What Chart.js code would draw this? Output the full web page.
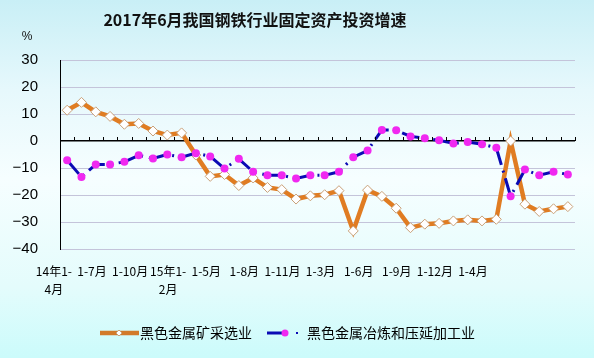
<!DOCTYPE html>
<html>
<head>
<meta charset="utf-8">
<script src="https://cdn.jsdelivr.net/npm/chart.js@4/dist/chart.umd.min.js"></script>
<style>
  html, body { margin: 0; padding: 0; }
  body {
    width: 594px; height: 358px; overflow: hidden;
    background: linear-gradient(to bottom, #c9eff6 0%, #e6f8fc 25%, #f6feff 50%, #e4fcfc 80%, #cbfbfb 100%);
  }
  #wrap { position: relative; width: 594px; height: 358px; }
</style>
</head>
<body>
<div id="wrap"><canvas id="mycanvas" width="594" height="358"></canvas></div>
<script>
// months, 2014 1-4 .. 2017 1-6
var months = [
  '14年1-4月','1-5月','1-6月','1-7月','1-8月','1-9月','1-10月','1-11月','1-12月',
  '15年1-2月','1-3月','1-4月','1-5月','1-6月','1-7月','1-8月','1-9月','1-10月','1-11月','1-12月',
  '16年1-2月','1-3月','1-4月','1-5月','1-6月','1-7月','1-8月','1-9月','1-10月','1-11月','1-12月',
  '17年1-2月','1-3月','1-4月','1-5月','1-6月'
];
var tickLabels = [['14年1-','4月'], '1-7月', '1-10月', ['15年1-','2月'], '1-5月', '1-8月', '1-11月', '1-3月', '1-6月', '1-9月', '1-12月', '1-4月'];
var yTicks = [30, 20, 10, 0, -10, -20, -30, -40];

var mining = [11.4, 14.3, 10.8, 9.1, 6.2, 6.5, 3.7, 2.2, 3.0,
  -5.2, -13.1, -12.4, -16.5, -13.7, -17.2, -18.0, -21.5, -20.3, -19.9, -18.4,
  -33.3, -18.2, -20.5, -24.9, -32.1, -30.8, -30.5, -29.6, -29.2, -29.6, -29.0,
  0.0, -23.4, -26.1, -25.1, -24.3];
var smelting = [-7.1, -13.3, -8.7, -8.7, -7.7, -5.3, -6.5, -5.0, -6.0,
  -4.5, -5.7, -10.2, -6.6, -11.4, -12.7, -12.7, -13.9, -12.7, -12.7, -11.4,
  -6.0, -3.5, 4.1, 4.0, 1.7, 1.0, 0.3, -0.9, -0.4, -1.2, -2.5,
  -20.5, -10.6, -12.7, -11.4, -12.4];

var names = ['黑色金属矿采选业', '黑色金属冶炼和压延加工业'];

var extras = {
  id: 'extras',
  afterDatasetsDraw: function(chart) {
    // small category ticks on the zero line
    var ctx = chart.ctx, x = chart.scales.x, y = chart.scales.y;
    var y0 = y.getPixelForValue(0);
    var n = months.length, w = (x.right - x.left) / n;
    ctx.save();
    ctx.strokeStyle = '#000';
    ctx.lineWidth = 1;
    ctx.beginPath();
    for (var i = 0; i <= n; i++) {
      var px = Math.round(x.left + i * w) + 0.5;
      ctx.moveTo(px, y0 - 4);
      ctx.lineTo(px, y0);
    }
    ctx.stroke();
    ctx.restore();
  },
  afterDraw: function(chart) {
    var ctx = chart.ctx;
    ctx.save();
    ctx.fillStyle = '#111';
    ctx.font = 'bold 16px "Noto Sans CJK SC"';
    ctx.textAlign = 'center';
    ctx.textBaseline = 'middle';
    ctx.fillText('2017年6月我国钢铁行业固定资产投资增速', 255, 20);
    ctx.font = '12px "Liberation Sans"';
    ctx.fillText('%', 27, 37);

    // legend
    var ly = 333;
    ctx.lineCap = 'butt';
    ctx.strokeStyle = '#d27a2a';
    ctx.lineWidth = 4.5;
    ctx.beginPath(); ctx.moveTo(100, ly); ctx.lineTo(139, ly); ctx.stroke();
    ctx.fillStyle = '#fff';
    ctx.strokeStyle = '#c8a078';
    ctx.lineWidth = 1;
    ctx.beginPath();
    ctx.moveTo(119, ly - 3); ctx.lineTo(122, ly); ctx.lineTo(119, ly + 3); ctx.lineTo(116, ly);
    ctx.closePath(); ctx.fill(); ctx.stroke();

    ctx.strokeStyle = '#0a0ab4';
    ctx.lineWidth = 3;
    ctx.beginPath(); ctx.moveTo(267, ly); ctx.lineTo(284, ly); ctx.stroke();
    ctx.fillStyle = '#f028f0';
    ctx.beginPath(); ctx.arc(285, ly, 3.5, 0, Math.PI * 2); ctx.fill();
    ctx.fillStyle = '#0a0ab4';
    ctx.fillRect(296, ly - 1, 2, 2);

    ctx.fillStyle = '#000';
    ctx.font = '14px "Noto Sans CJK SC"';
    ctx.textAlign = 'left';
    ctx.fillText(names[0], 140, ly);
    ctx.fillText(names[1], 307, ly);
    ctx.restore();
  }
};

var chartdata = {
  labels: months,
  datasets: [
    {
      label: names[0],
      data: mining,
      order: 1,
      borderColor: '#e07c22',
      borderWidth: 4.5,
      backgroundColor: '#ffffff',
      pointStyle: 'rectRot',
      pointRadius: 5,
      pointBorderColor: '#c8a078',
      pointBorderWidth: 1,
      pointBackgroundColor: '#ffffff',
      tension: 0
    },
    {
      label: names[1],
      data: smelting,
      order: 0,
      borderColor: '#0a0ab4',
      borderWidth: 3,
      borderDash: [18, 6, 2, 6],
      pointStyle: 'circle',
      pointRadius: 4,
      pointBorderWidth: 0,
      pointBackgroundColor: '#f028f0',
      tension: 0
    }
  ]
};

var ctx = document.getElementById('mycanvas');
var lineGraph = new Chart(ctx, {
  type: 'line',
  data: chartdata,
  plugins: [extras],
  options: {
    responsive: false,
    animation: false,
    layout: { padding: { left: 0, right: 19, top: 60, bottom: 0 } },
    plugins: {
      legend: { display: false },
      title: { display: false },
      tooltip: { enabled: false }
    },
    scales: {
      x: {
        type: 'category',
        display: false,
        offset: true
      },
      x2: {
        type: 'linear',
        position: 'bottom',
        min: 0.16,
        max: 13.68,
        grid: { display: false },
        border: { display: false },
        afterBuildTicks: function(scale) {
          scale.ticks = tickLabels.map(function(t, i) { return { value: i }; });
        },
        afterFit: function(scale) { scale.height = 109; },
        ticks: {
          autoSkip: false,
          maxRotation: 0,
          padding: 6,
          color: '#000',
          font: { family: '"Noto Sans CJK SC"', size: 12, lineHeight: 1.45 },
          callback: function(v) { return tickLabels[v]; }
        }
      },
      y: {
        min: -40,
        max: 30,
        afterBuildTicks: function(scale) {
          scale.ticks = yTicks.map(function(v) { return { value: v }; });
        },
        afterFit: function(scale) { scale.width = 60; },
        border: { display: true, color: '#000', width: 1 },
        grid: {
          drawTicks: false,
          color: function(c) { return c.tick && c.tick.value === 0 ? '#000' : '#c4c4da'; },
          lineWidth: function(c) { return c.tick && c.tick.value === 0 ? 1.5 : 1; }
        },
        ticks: {
          padding: 22,
          color: '#000',
          font: { family: '"Liberation Sans"', size: 15 },
          callback: function(v) { return String(v).replace('-', '\u2212'); }
        }
      }
    }
  }
});
</script>
</body>
</html>
